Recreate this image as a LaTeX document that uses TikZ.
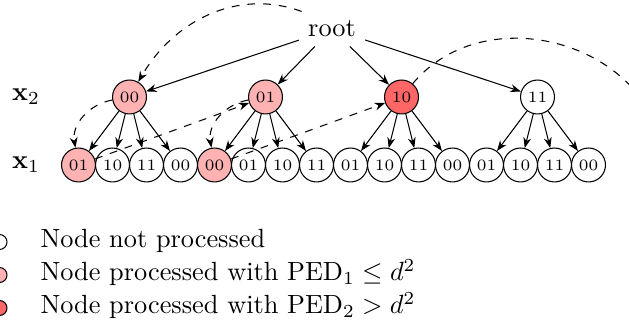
\documentclass[tikz,border=0pt]{standalone}
\usetikzlibrary{arrows.meta}
\definecolor{lightred}{RGB}{255,178,178}
\definecolor{darkred}{RGB}{255,102,102}
\begin{document}
\begin{tikzpicture}[x=0.38pt,y=0.38pt,
  tn/.style={circle,draw,minimum size=12.9pt,inner sep=0pt,font=\fontsize{6}{7}\selectfont},
  done/.style={fill=lightred},
  bad/.style={fill=darkred},
  arr/.style={-{Stealth[length=4pt,width=3pt]}},
  darr/.style={arr,dashed},
  legc/.style={circle,draw,minimum size=5.7pt,inner sep=0pt},
  legt/.style={anchor=base west,inner sep=0pt}]
\useasboundingbox (0,0) rectangle (629,324);
\node (root) at (332,295) {root};
\node[tn,done] (a1) at (129.5,227) {00};
\node[tn,done] (a2) at (265.5,227) {01};
\node[tn,bad]  (a3) at (401.5,227) {10};
\node[tn]      (a4) at (537.5,227) {11};
\node[tn,done] (b1) at (78.5,159) {01};
\node[tn] (b2) at (112.5,159) {10};
\node[tn] (b3) at (146.5,159) {11};
\node[tn] (b4) at (180.5,159) {00};
\node[tn,done] (b5) at (214.5,159) {00};
\node[tn] (b6) at (248.5,159) {01};
\node[tn] (b7) at (282.5,159) {10};
\node[tn] (b8) at (316.5,159) {11};
\node[tn] (b9) at (350.5,159) {01};
\node[tn] (b10) at (384.5,159) {10};
\node[tn] (b11) at (418.5,159) {11};
\node[tn] (b12) at (452.5,159) {00};
\node[tn] (b13) at (486.5,159) {01};
\node[tn] (b14) at (520.5,159) {10};
\node[tn] (b15) at (554.5,159) {11};
\node[tn] (b16) at (588.5,159) {00};
\node (x2) at (26,227) {$\mathbf{x}_2$};
\node (x1) at (26,159) {$\mathbf{x}_1$};
\foreach \a in {1,...,4} {
  \draw[arr] (root) -- (a\a);
  \foreach \k in {1,...,4} {
    \pgfmathtruncatemacro\c{4*(\a-1)+\k}
    \draw[arr] (a\a) -- (b\c);
  }
}
\draw[darr] (root.150) to[out=160,in=60] (a1);
\draw[darr] (a1) to[out=190,in=100] (b1);
\draw[darr] (b1) -- (a2);
\draw[darr] (a2) to[out=190,in=100] (b5);
\draw[darr] (b5) -- (a3);
\coordinate (off) at (640,227);
\draw[darr] (a3) to[out=50,in=130] (off);
\node[legc,fill=white] (l1) at (-0.5,82) {};
\node[legc,fill=lightred] (l2) at (-0.5,49) {};
\node[legc,fill=darkred] (l3) at (-0.5,16) {};
\node[legt] (t1) at (40,76) {Node not processed};
\node[legt] (t2) at (40,43) {Node processed with $\mathrm{PED}_1 \leq d^2$};
\node[legt] (t3) at (40,10) {Node processed with $\mathrm{PED}_2 > d^2$};
\end{tikzpicture}
\end{document}
